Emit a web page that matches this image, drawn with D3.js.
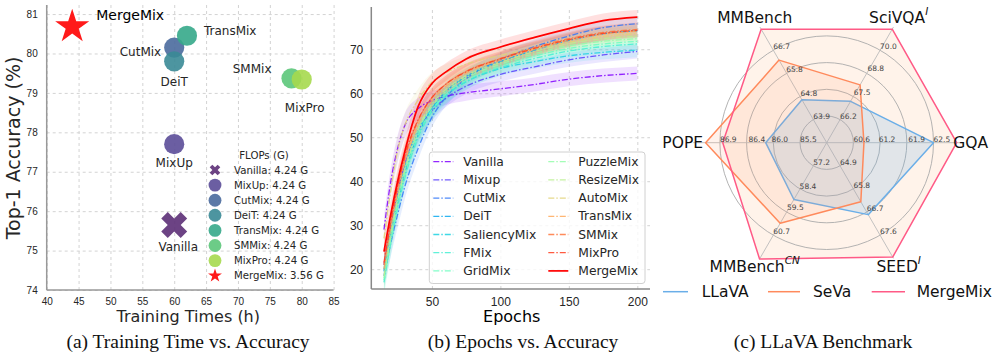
<!DOCTYPE html>
<html>
<head>
<meta charset="utf-8">
<script src="https://cdn.jsdelivr.net/npm/d3@7"></script>
<style>
body{margin:0;background:#fff;}
svg{font-family:"DejaVu Sans",sans-serif;}
.caption{font-family:"Liberation Serif","Times New Roman",serif;font-size:19.5px;fill:#111;}
</style>
</head>
<body>
<svg id="fig" width="997" height="356"></svg>
<script>
// ---- (a) tiempo de entrenamiento vs precision
const metodosA = ["Vanilla","MixUp","CutMix","DeiT","TransMix","SMMix","MixPro","MergeMix"];
const horasA = [60, 60, 60, 60, 62, 78.4, 80, 44];
const accA = [75.65, 77.7, 80.15, 79.8, 80.45, 79.37, 79.34, 80.68];
const flopsA = ["4.24","4.24","4.24","4.24","4.24","4.24","4.24","3.56"];
const ticksXA = [40,45,50,55,60,65,70,75,80,85];
const ticksYA = [74,75,76,77,78,79,80,81];

// ---- (b) epocas vs precision
const metodosB = ["Vanilla","Mixup","CutMix","DeiT","SaliencyMix","FMix","GridMix","PuzzleMix","ResizeMix","AutoMix","TransMix","SMMix","MixPro","MergeMix"];
const epocas = [15, 20, 25, 30, 40, 50, 60, 75, 100, 125, 150, 175, 200];
const acc_vanilla   = [29, 40, 47.5, 52.5, 56.5, 58.3, 59.3, 60.1, 61.0, 62.0, 63.2, 64.0, 64.5];
const acc_mixup     = [21, 30, 37.5, 43.5, 51.5, 56.0, 58.8, 61.6, 64.3, 66.0, 67.6, 68.7, 69.5];
const acc_cutmix    = [18.5, 26, 32.5, 38.5, 47.5, 54.5, 59.0, 63.3, 67.6, 70.6, 73.0, 74.9, 75.8];
const acc_deit      = [19.5, 28, 35, 41.5, 50.5, 56.5, 60.3, 63.8, 67.2, 69.8, 72.0, 73.5, 74.2];
const acc_saliency  = [20, 29, 36.5, 43, 51.5, 56.5, 59.6, 62.6, 65.6, 67.2, 68.5, 69.3, 69.8];
const acc_fmix      = [17, 26, 34, 40.5, 50, 55.8, 59.3, 62.6, 65.8, 67.9, 69.6, 70.6, 71.2];
const acc_gridmix   = [17.5, 26.5, 34.5, 41, 50.5, 56.2, 59.7, 63.0, 66.2, 68.5, 70.2, 71.2, 71.8];
const acc_puzzlemix = [18, 27.5, 35.5, 42, 51.5, 57, 60.3, 63.5, 66.6, 69.0, 70.8, 71.8, 72.4];
const acc_resizemix = [18.5, 28, 36, 42.5, 52, 57.5, 60.8, 64.0, 67.0, 69.5, 71.3, 72.4, 73.0];
const acc_automix   = [27, 38, 47, 52.5, 58.5, 62.5, 64.6, 66.6, 68.6, 70.1, 71.6, 72.9, 73.6];
const acc_transmix  = [20, 29.5, 37.5, 44, 53, 58.3, 61.5, 64.6, 67.5, 70.0, 72.0, 73.4, 74.1];
const acc_smmix     = [21, 30.5, 38.5, 45, 53.8, 59, 62, 65.0, 67.9, 70.4, 72.4, 73.8, 74.5];
const acc_mixpro    = [21.5, 31, 39, 45.5, 54, 59, 62, 64.9, 67.8, 70.2, 72.2, 73.6, 74.3];
const acc_mergemix  = [24, 32.5, 40, 46.5, 57, 62.2, 64.8, 67.8, 70.5, 72.7, 74.7, 76.5, 77.3];
const dispersion    = [3, 3, 3, 2.8, 2.5, 2.2, 2, 1.8, 1.7, 1.6, 1.6, 1.6, 1.6];
const ticksXB = [50,100,150,200];
const ticksYB = [20,30,40,50,60,70];

// ---- (c) radar LLaVA
const ejesRadar = ["GQA","SciVQA","MMBench","POPE","MMBench","SEED"];
const supRadar = ["","I","","","CN","I"];
const ticksRadar = [[60.6,61.2,61.9,62.5],[66.2,67.5,68.8,70.0],[63.9,64.8,65.8,66.7],[85.5,86.0,86.4,86.9],[57.2,58.4,59.5,60.7],[64.9,65.8,66.7,67.6]];
const llava    = [62.5, 67.2, 64.7, 86.1, 58.9, 66.8];
const seva     = [60.85, 68.1, 66.3, 87.15, 60.1, 66.3];
const mergemix = [63.05, 71.15, 67.55, 86.85, 61.9, 68.45];
const modelosRadar = ["LLaVA","SeVa","MergeMix"];

const svg = d3.select("#fig");
const gris = "#262626";

// =============== panel a ===============
function panelA(){
    const x = d3.scaleLinear().domain([40,85]).range([46.7,333.6]);
    const y = d3.scaleLinear().domain([74,81.23]).range([290,5]);
    const g = svg.append("g");
    const colores = ["#5c2f77","#5b4c98","#4a6a9d","#3a8996","#35a88a","#5cc77a","#a6d94e","#ff1a1a"];

    const ax = g.append("g").attr("transform","translate(0,290)")
        .call(d3.axisBottom(x).tickValues(ticksXA).tickSize(-285).tickPadding(8));
    const ay = g.append("g").attr("transform","translate(46.7,0)")
        .call(d3.axisLeft(y).tickValues(ticksYA).tickSize(-286.9).tickPadding(9));
    [ax, ay].forEach(a => {
        a.select(".domain").remove();
        a.selectAll("line").attr("stroke","#d3d3d3").attr("stroke-dasharray","3,3");
        a.selectAll("text").attr("font-size",10).attr("fill",gris);
    });
    g.append("line").attr("x1",46.7).attr("x2",46.7).attr("y1",5).attr("y2",290).attr("stroke","#999").attr("stroke-width",1.5);
    g.append("line").attr("x1",46.7).attr("x2",333.6).attr("y1",290).attr("y2",290).attr("stroke","#999").attr("stroke-width",1.5);

    const marca = (i, s) => {
        if(i === 0) return d3.symbol(d3.symbolCross, s ? 70 : 420)();
        if(i === 7) return d3.symbol(d3.symbolStar, s ? 60 : 360)();
        return d3.symbol(d3.symbolCircle, s ? 130 : 320)();
    };
    g.selectAll(".pt").data(metodosA).join("path")
        .attr("d", (d,i) => marca(i,false))
        .attr("transform", (d,i) => `translate(${x(horasA[i])},${y(accA[i])}) rotate(${i===0?45:0})`)
        .attr("fill", (d,i) => colores[i]).attr("fill-opacity", (d,i) => i===7 ? 1 : 0.9);

    const off = [[4,22,"middle"],[0,19,"middle"],[-13,4,"end"],[0,21,"middle"],[17,-4.5,"start"],[-20,-9,"end"],[3,28.5,"middle"],[24,-12,"start"]];
    g.selectAll(".lab").data(metodosA).join("text")
        .attr("x", (d,i) => x(horasA[i]) + off[i][0])
        .attr("y", (d,i) => y(accA[i]) + off[i][1])
        .attr("text-anchor", (d,i) => off[i][2])
        .attr("dominant-baseline","central")
        .attr("font-size", (d,i) => i===7 ? 14 : 12)
        .attr("fill", (d,i) => i===7 ? "#000" : gris)
        .text(d => d);

    // leyenda FLOPs
    const ley = g.append("g");
    ley.append("text").attr("x",264).attr("y",155).attr("text-anchor","middle").attr("dominant-baseline","central")
        .attr("font-size",10.2).attr("fill",gris).text("FLOPs (G)");
    metodosA.forEach((m,i) => {
        const yy = 170 + i*15.1;
        ley.append("path").attr("d", marca(i,true))
            .attr("transform", `translate(215,${yy}) rotate(${i===0?45:0})`)
            .attr("fill", colores[i]).attr("fill-opacity", i===7?1:0.9);
        ley.append("text").attr("x",234).attr("y",yy).attr("dominant-baseline","central")
            .attr("font-size",10.2).attr("fill",gris).text(`${m}: ${flopsA[i]} G`);
    });

    g.append("text").attr("x",188.3).attr("y",316.7).attr("text-anchor","middle").attr("dominant-baseline","central")
        .attr("font-size",16).attr("fill",gris).text("Training Times (h)");
    g.append("text").attr("transform","translate(12.5,148) rotate(-90)").attr("text-anchor","middle").attr("dominant-baseline","central")
        .attr("font-size",19).attr("fill",gris).text("Top-1 Accuracy (%)");
    g.append("text").attr("class","caption").attr("x",188).attr("y",348).attr("text-anchor","middle").text("(a) Training Time vs. Accuracy");
}

// =============== panel b ===============
function rainbow(t){
    const r = Math.min(1, Math.abs(2*t - 0.5)), gg = Math.sin(Math.PI*t), b = Math.cos(Math.PI*t/2);
    return d3.rgb(r*255, gg*255, b*255).formatHex();
}
function panelB(){
    const x = d3.scaleLinear().domain([5.75,209.25]).range([371.3,650]);
    const y = d3.scaleLinear().domain([15.5,79.6]).range([289,7]);
    const g = svg.append("g");
    const series = [acc_vanilla,acc_mixup,acc_cutmix,acc_deit,acc_saliency,acc_fmix,acc_gridmix,acc_puzzlemix,acc_resizemix,acc_automix,acc_transmix,acc_smmix,acc_mixpro,acc_mergemix];
    const colores = metodosB.map((d,i) => rainbow(i/(metodosB.length-1)));

    const ax = g.append("g").attr("transform","translate(0,289)")
        .call(d3.axisBottom(x).tickValues(ticksXB).tickSize(-282).tickPadding(8.5));
    const ay = g.append("g").attr("transform","translate(371.3,0)")
        .call(d3.axisLeft(y).tickValues(ticksYB).tickSize(-278.7).tickPadding(8));
    [ax, ay].forEach(a => {
        a.select(".domain").remove();
        a.selectAll("line").attr("stroke","#d3d3d3").attr("stroke-dasharray","3,3");
        a.selectAll("text").attr("font-size",12).attr("fill",gris);
    });

    svg.append("clipPath").attr("id","clipB").append("rect").attr("x",371.3).attr("y",7).attr("width",278.7).attr("height",282);
    const area = d3.area().x((d,i) => x(epocas[i])).y0((d,i) => y(d - dispersion[i])).y1((d,i) => y(d + dispersion[i])).curve(d3.curveMonotoneX);
    const linea = d3.line().x((d,i) => x(epocas[i])).y(d => y(d)).curve(d3.curveMonotoneX);
    const cg = g.append("g").attr("clip-path","url(#clipB)");
    cg.selectAll(".banda").data(series).join("path")
        .attr("d", area).attr("fill", (d,i) => colores[i]).attr("fill-opacity",0.12);
    cg.selectAll(".curva").data(series).join("path")
        .attr("d", linea).attr("fill","none")
        .attr("stroke", (d,i) => colores[i])
        .attr("stroke-width", (d,i) => i===13 ? 1.7 : 1.3)
        .attr("stroke-opacity", (d,i) => i===13 ? 1 : 0.85)
        .attr("stroke-dasharray", (d,i) => i===13 ? null : "6,2,1.5,2");

    g.append("line").attr("x1",371.3).attr("x2",371.3).attr("y1",7).attr("y2",289).attr("stroke","#888").attr("stroke-width",1.5);
    g.append("line").attr("x1",371.3).attr("x2",650).attr("y1",289).attr("y2",289).attr("stroke","#888").attr("stroke-width",1.5);

    // leyenda
    const ley = g.append("g");
    ley.append("rect").attr("x",429.3).attr("y",152).attr("width",215.7).attr("height",131.5).attr("rx",3)
        .attr("fill","#fff").attr("fill-opacity",0.8).attr("stroke","#d0d0d0");
    metodosB.forEach((m,i) => {
        const col = Math.floor(i/7), fila = i%7;
        const x0 = col ? 548.3 : 433.3, yy = 161.7 + fila*18.2;
        ley.append("line").attr("x1",x0).attr("x2",x0+20).attr("y1",yy).attr("y2",yy)
            .attr("stroke",colores[i]).attr("stroke-width", i===13?1.7:1.3).attr("stroke-opacity", i===13?1:0.85)
            .attr("stroke-dasharray", i===13 ? null : "6,2,1.5,2");
        ley.append("text").attr("x",x0+30).attr("y",yy).attr("dominant-baseline","central")
            .attr("font-size",12.3).attr("fill",gris).text(m);
    });

    g.append("text").attr("x",511.7).attr("y",316.7).attr("text-anchor","middle").attr("dominant-baseline","central")
        .attr("font-size",16).attr("fill","#000").text("Epochs");
    g.append("text").attr("class","caption").attr("x",523).attr("y",348).attr("text-anchor","middle").text("(b) Epochs vs. Accuracy");
}

// =============== panel c ===============
function panelC(){
    const cx = 826.7, cy = 142.7, R = 133.5;
    const g = svg.append("g");
    const ang = i => i*Math.PI/3;
    const escalas = ticksRadar.map(t => {
        const d = (t[3]-t[0])/3;
        return d3.scaleLinear().domain([t[0]-d, t[3]+d]).range([0,R]);
    });
    const pos = (i, r) => [cx + r*Math.cos(ang(i)), cy - r*Math.sin(ang(i))];

    const colores = ["#6aaee8","#ff8a5c","#ff5a86"];
    const rellenos = [["#6aaee8",0.2],["#ff9a70",0.13],["#fff3ea",1]];
    const polis = [llava, seva, mergemix];

    // relleno de MergeMix debajo de la rejilla
    const ptsM = mergemix.map((v,i) => pos(i, escalas[i](v)));
    g.append("path").attr("d", d3.line()(ptsM) + "Z").attr("fill", rellenos[2][0]).attr("fill-opacity", rellenos[2][1]);

    [0.2,0.4,0.6,0.8].forEach(f => g.append("circle").attr("cx",cx).attr("cy",cy).attr("r",R*f)
        .attr("fill","none").attr("stroke","#aaa").attr("stroke-width",0.9));
    ejesRadar.forEach((e,i) => {
        const p = pos(i,R);
        g.append("line").attr("x1",cx).attr("y1",cy).attr("x2",p[0]).attr("y2",p[1])
            .attr("stroke","#bbb").attr("stroke-width",0.9);
    });

    polis.forEach((vals,k) => {
        const pts = vals.map((v,i) => pos(i, escalas[i](v)));
        g.append("path").attr("d", d3.line()(pts) + "Z")
            .attr("fill", k===2 ? "none" : rellenos[k][0]).attr("fill-opacity", rellenos[k][1])
            .attr("stroke", colores[k]).attr("stroke-width",1.5).attr("stroke-linejoin","round");
    });

    ticksRadar.forEach((t,i) => t.forEach((v,j) => {
        const p = pos(i, escalas[i](v));
        g.append("text").attr("x",p[0]).attr("y",p[1]-1).attr("font-size",7.5).attr("fill","#444").text(v.toFixed(1));
    }));

    ejesRadar.forEach((e,i) => {
        const p = pos(i,144);
        const t = g.append("text").attr("x",p[0]).attr("y",p[1]).attr("text-anchor","middle").attr("dominant-baseline","central")
            .attr("font-size",15.5).attr("fill","#111").text(e);
        if(supRadar[i]) t.append("tspan").attr("dy",-7).attr("font-size",10.5).attr("font-style","italic").text(supRadar[i]);
    });

    const xs = [[663,688,701.7],[768,800,813],[871.7,905,916.7]];
    modelosRadar.forEach((m,k) => {
        g.append("line").attr("x1",xs[k][0]).attr("x2",xs[k][1]).attr("y1",291.7).attr("y2",291.7).attr("stroke",colores[k]).attr("stroke-width",1.5);
        g.append("text").attr("x",xs[k][2]).attr("y",291.7).attr("dominant-baseline","central").attr("font-size",15.5).attr("fill","#111").text(m);
    });
    g.append("text").attr("class","caption").attr("x",823).attr("y",348).attr("text-anchor","middle").text("(c) LLaVA Benchmark");
}

panelA();
panelB();
panelC();
</script>
</body>
</html>
